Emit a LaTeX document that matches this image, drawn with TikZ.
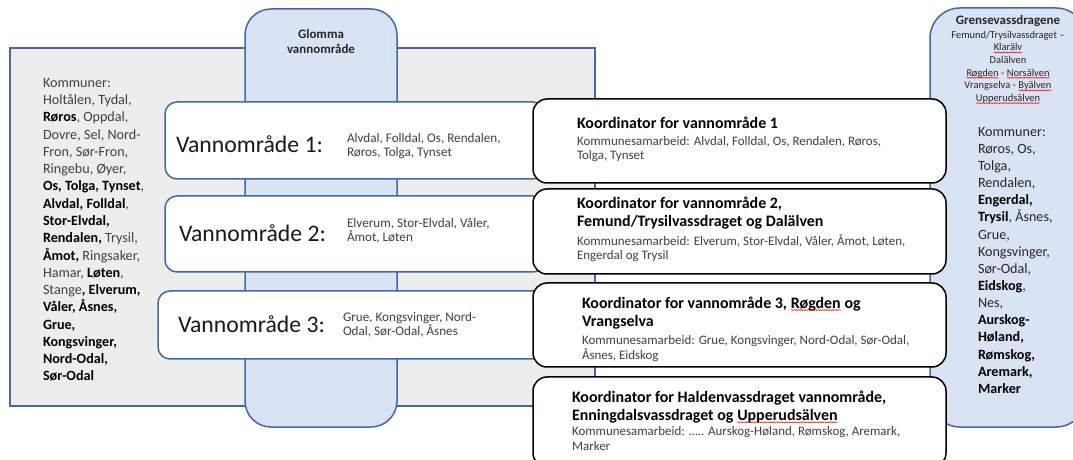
\documentclass[tikz,border=0pt]{standalone}
\usepackage{fontspec}
\setmainfont{Carlito}
\usetikzlibrary{positioning,decorations.pathmorphing}
\definecolor{kant}{HTML}{4068AA}
\definecolor{lysblaa}{HTML}{DAE3F3}
\definecolor{lysgraa}{HTML}{EDEDED}
\definecolor{tekst}{HTML}{404040}
\newlength{\lw}
\setlength{\lw}{1.5bp}
\newcommand{\fsz}[2]{\fontsize{#1}{#2}\selectfont}
\newcommand{\kb}[1]{\textcolor{black}{\textbf{#1}}}
\newcommand{\sq}[1]{\tikz[baseline=(ord.base)]{\node[inner sep=0pt,outer sep=0pt] (ord) {#1};
  \draw[red,line width=0.5bp,decorate,decoration={snake,amplitude=0.5bp,segment length=2.4bp}]
    ([yshift=-1.6bp]ord.base west) -- ([yshift=-1.6bp]ord.base east);}}
\tikzstyle{every picture}+=[x=1bp,y=-1bp]
\tikzstyle{every picture}+=[line width=\lw]
\tikzstyle{box}=[inner sep=0pt,outer sep=0pt,anchor=north west]
\tikzstyle{area}=[box,draw=kant,fill=lysgraa]
\tikzstyle{elv}=[box,draw=kant,fill=lysblaa,rounded corners=26bp]
\tikzstyle{vomr}=[box,draw=kant,fill=white,rounded corners=12bp]
\tikzstyle{koord}=[box,draw=black,fill=white,rounded corners=14bp]
% tekstnoder sitter paa grunnlinjen til siste linje
\tikzstyle{txt}=[inner sep=0pt,outer sep=0pt,anchor=base west,align=left,text=tekst]
\tikzstyle{liste}=[txt,font=\fsz{14.2}{17.35}]
\tikzstyle{vlabel}=[txt,text=black!90,font=\fsz{23.8}{28}]
\tikzstyle{vliste}=[txt,font=\fsz{13.2}{14.6}]
\tikzstyle{ktitle}=[txt,text=black,font=\bfseries\fsz{16}{18.3}]
\tikzstyle{kbody}=[txt,font=\fsz{13}{14.8}]
\tikzstyle{ghead}=[txt,anchor=base,align=center,text=black!85,font=\bfseries\fsz{13}{15.7}]
\tikzstyle{glines}=[txt,anchor=base,align=center,text=black!85,font=\fsz{10.5}{12.7}]

\begin{document}
\begin{tikzpicture}
\useasboundingbox (0,0) rectangle (1073,460);
\clip (0,0) rectangle (1073,460);

% bakgrunn og de to blaa feltene
\node[area,minimum width=585bp,minimum height=358bp] (omr) at (10,48) {};
\node[elv,minimum width=152bp,minimum height=418bp] (glomma) at (245,9) {};
\node[elv,minimum width=156bp,minimum height=419bp,rounded corners=30bp] (grense) at (930,8) {};

\node[liste] (kommL) at ([shift={(33,333)}]omr.north west) {Kommuner:\\
Holtålen, Tydal,\\
\kb{Røros}, Oppdal,\\
Dovre, Sel, Nord-\\
Fron, Sør-Fron,\\
Ringebu, Øyer,\\
\kb{Os, Tolga, Tynset},\\
\kb{Alvdal, Folldal},\\
\kb{Stor-Elvdal,}\\
\kb{Rendalen,} Trysil,\\
\kb{Åmot,} Ringsaker,\\
Hamar, \kb{Løten},\\
Stange\kb{, Elverum,}\\
\kb{Våler, Åsnes,}\\
\kb{Grue,}\\
\kb{Kongsvinger,}\\
\kb{Nord-Odal,}\\
\kb{Sør-Odal}};

\node[ghead] (glommatxt) at ([shift={(0,45)}]glomma.north) {Glomma\\vannområde};

\node[ghead] (grensetxt) at ([shift={(0,16.5)}]grense.north) {Grensevassdragene};
\node[glines] (grenselist) at ([shift={(0,93.5)}]grense.north) {Femund/Trysilvassdraget –\\
\sq{Klarälv}\\
Dalälven\\
\sq{Røgden} - \sq{Norsälven}\\
Vrangselva - \sq{Byälven}\\
\sq{Upperudsälven}};

\node[liste,text=black!85,font=\fsz{14.2}{17.2}] (kommR) at ([shift={(48,385.3)}]grense.north west) {Kommuner:\\
Røros, Os,\\
Tolga,\\
Rendalen,\\
\kb{Engerdal,}\\
\kb{Trysil}, Åsnes,\\
Grue,\\
Kongsvinger,\\
Sør-Odal,\\
\kb{Eidskog},\\
Nes,\\
\kb{Aurskog-}\\
\kb{Høland,}\\
\kb{Rømskog,}\\
\kb{Aremark,}\\
\kb{Marker}};

% vannomraadene
\node[vomr,minimum width=380bp,minimum height=77bp] (v1) at (165,102) {};
\node[vlabel] (v1navn) at ([shift={(11,51)}]v1.north west) {Vannområde 1:};
\node[vliste] (v1liste) at ([shift={(182,54.7)}]v1.north west) {Alvdal, Folldal, Os, Rendalen,\\Røros, Tolga, Tynset};

\node[vomr,minimum width=380bp,minimum height=76bp] (v2) at (165,196) {};
\node[vlabel] (v2navn) at ([shift={(14,45.5)}]v2.north west) {Vannområde 2:};
\node[vliste] (v2liste) at ([shift={(182,46)}]v2.north west) {Elverum, Stor-Elvdal, Våler,\\Åmot, Løten};

\node[vomr,minimum width=387bp,minimum height=68bp] (v3) at (158,291) {};
\node[vlabel] (v3navn) at ([shift={(20,41.5)}]v3.north west) {Vannområde 3:};
\node[vliste] (v3liste) at ([shift={(185,45)}]v3.north west) {Grue, Kongsvinger, Nord-\\Odal, Sør-Odal, Åsnes};

% koordinatorene
\node[koord,minimum width=413bp,minimum height=84bp] (k1) at (533,99) {};
\node[ktitle] (k1tittel) at ([shift={(44,29.3)}]k1.north west) {Koordinator for vannområde 1};
\node[kbody] (k1tekst) at ([shift={(44,61)}]k1.north west) {Kommunesamarbeid: Alvdal, Folldal, Os, Rendalen, Røros,\\Tolga, Tynset};

\node[koord,minimum width=413bp,minimum height=85bp] (k2) at (533,189) {};
\node[ktitle] (k2tittel) at ([shift={(44,37.7)}]k2.north west) {Koordinator for vannområde 2,\\Femund/Trysilvassdraget og Dalälven};
\node[kbody] (k2tekst) at ([shift={(44,71)}]k2.north west) {Kommunesamarbeid: Elverum, Stor-Elvdal, Våler, Åmot, Løten,\\Engerdal og Trysil};

\node[koord,minimum width=413bp,minimum height=84bp] (k3) at (533,283) {};
\node[ktitle] (k3tittel) at ([shift={(49,43.7)}]k3.north west) {Koordinator for vannområde 3, \sq{Røgden} og\\Vrangselva};
\node[kbody] (k3tekst) at ([shift={(49,76.3)}]k3.north west) {Kommunesamarbeid: Grue, Kongsvinger, Nord-Odal, Sør-Odal,\\Åsnes, Eidskog};

\node[koord,minimum width=413bp,minimum height=90bp] (k4) at (533,377) {};
\node[ktitle] (k4tittel) at ([shift={(39,43.7)}]k4.north west) {Koordinator for Haldenvassdraget vannområde,\\Enningdalsvassdraget og \sq{Upperudsälven}};
\node[kbody] (k4tekst) at ([shift={(39,73)}]k4.north west) {Kommunesamarbeid: ….. Aurskog-Høland, Rømskog, Aremark,\\Marker};
\end{tikzpicture}
\end{document}
